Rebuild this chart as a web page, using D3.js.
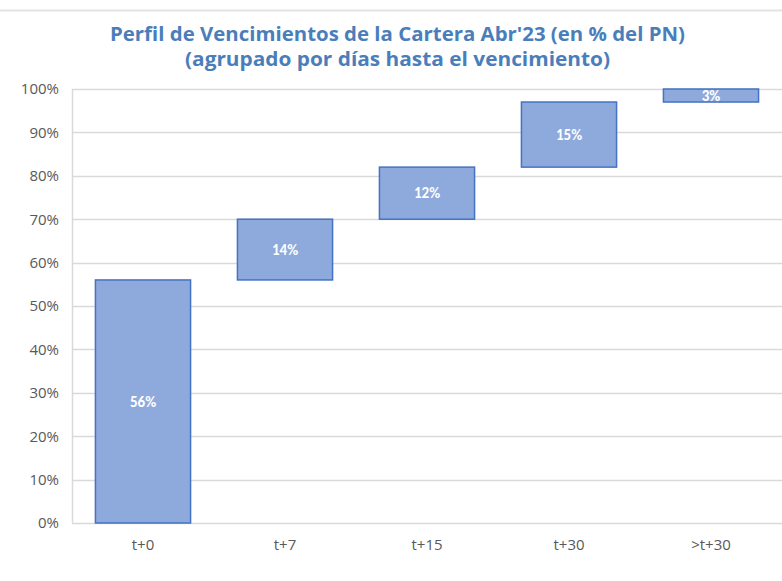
<!DOCTYPE html>
<html>
<head>
<meta charset="utf-8">
<script src="https://cdn.jsdelivr.net/npm/d3@7"></script>
<style>
  body { margin: 0; background: #fff; }
  svg { display: block; }
</style>
</head>
<body>
<svg id="chart" width="782" height="581"></svg>
<script>
// datos del gráfico
const categories = ['t+0', 't+7', 't+15', 't+30', '>t+30'];
const values = [56, 14, 12, 15, 3];
const labels = ['56%', '14%', '12%', '15%', '3%'];
const yTicks = [0, 10, 20, 30, 40, 50, 60, 70, 80, 90, 100];

const svg = d3.select('#chart'),
  margin = {top: 89, right: 0, bottom: 58, left: 72},
  width = +svg.attr('width') - margin.left - margin.right,
  height = +svg.attr('height') - margin.top - margin.bottom;

// línea superior del marco
svg.append('line')
  .attr('x1', 0).attr('x2', 782)
  .attr('y1', 10.5).attr('y2', 10.5)
  .attr('stroke', '#e3e3e3')
  .attr('stroke-width', 2);

// título
const title = svg.append('text')
  .attr('fill', '#4a7ebb')
  .attr('font-family', '"Open Sans", Lato, sans-serif')
  .attr('font-weight', 'bold')
  .attr('font-size', 19);
title.append('tspan').attr('x', 110).attr('y', 41)
  .attr('textLength', 575).attr('lengthAdjust', 'spacingAndGlyphs')
  .text('Perfil de Vencimientos de la Cartera Abr\'23 (en % del PN)');
title.append('tspan').attr('x', 185).attr('y', 66)
  .attr('textLength', 425).attr('lengthAdjust', 'spacingAndGlyphs')
  .text('(agrupado por días hasta el vencimiento)');

// escalas
const x = d3.scaleBand().domain(categories).range([0, width]).paddingInner(0.33).paddingOuter(0.165),
  y = d3.scaleLinear().domain([0, 100]).range([height, 0]);

const g = svg.append('g')
  .attr('transform', 'translate(' + margin.left + ',' + margin.top + ')');

// grilla
g.append('g')
  .selectAll('line')
  .data(yTicks)
  .enter().append('line')
  .attr('x1', 0).attr('x2', width)
  .attr('y1', d => Math.round(y(d)) + 0.5)
  .attr('y2', d => Math.round(y(d)) + 0.5)
  .attr('stroke', '#d9d9d9')
  .attr('stroke-width', 1.5);

// eje vertical
g.append('line')
  .attr('x1', 0.5).attr('x2', 0.5)
  .attr('y1', 0).attr('y2', height)
  .attr('stroke', '#d9d9d9')
  .attr('stroke-width', 1.5);

// etiquetas del eje Y
const yAxis = g.append('g')
  .call(d3.axisLeft(y).tickValues(yTicks).tickSize(0).tickPadding(13).tickFormat(d => d + '%'));
yAxis.select('.domain').remove();
yAxis.selectAll('text')
  .attr('fill', '#595959')
  .attr('font-family', '"Open Sans", Lato, sans-serif')
  .attr('font-size', 15);

// etiquetas del eje X
const xAxis = g.append('g')
  .attr('transform', 'translate(0,' + height + ')')
  .call(d3.axisBottom(x).tickSize(0).tickPadding(16));
xAxis.select('.domain').remove();
xAxis.selectAll('text')
  .attr('fill', '#595959')
  .attr('font-family', '"Open Sans", Lato, sans-serif')
  .attr('font-size', 15);

// cascada
let acc = 0;
const bars = values.map((v, i) => {
  const d = {cat: categories[i], start: acc, end: acc + v, label: labels[i]};
  acc += v;
  return d;
});

g.selectAll('.bar')
  .data(bars)
  .enter().append('rect')
  .attr('class', 'bar')
  .attr('x', d => x(d.cat))
  .attr('y', d => y(d.end))
  .attr('width', x.bandwidth())
  .attr('height', d => y(d.start) - y(d.end))
  .attr('fill', '#8eaadc')
  .attr('stroke', '#4472c4')
  .attr('stroke-width', 1.5);

g.selectAll('.lbl')
  .data(bars)
  .enter().append('text')
  .attr('class', 'lbl')
  .attr('x', d => x(d.cat) + x.bandwidth() / 2)
  .attr('y', d => (y(d.start) + y(d.end)) / 2)
  .attr('dy', '0.35em')
  .attr('text-anchor', 'middle')
  .attr('fill', '#ffffff')
  .attr('font-family', 'Calibri, Carlito, "Liberation Sans", sans-serif')
  .attr('font-weight', 'bold')
  .attr('font-size', 15)
  .text(d => d.label);
</script>
</body>
</html>
